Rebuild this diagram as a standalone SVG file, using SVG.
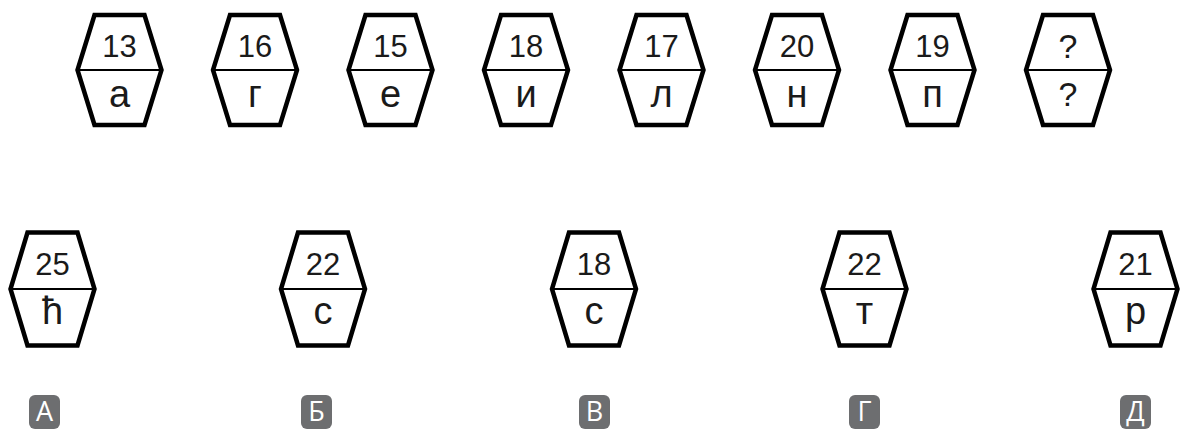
<svg xmlns="http://www.w3.org/2000/svg" width="1180" height="434" viewBox="0 0 1180 434">
<defs>
<style>
.hex{fill:#fff;stroke:#000;stroke-width:4.5;stroke-linejoin:miter}
.mid{stroke:#000;stroke-width:2}
.num{font-family:"Liberation Sans",Arial,sans-serif;font-size:31px;fill:#1a1a1a;text-anchor:middle}
.q{font-family:"Liberation Sans",Arial,sans-serif;font-size:34px;fill:#1a1a1a;text-anchor:middle}
.let{font-family:"Liberation Sans",Arial,sans-serif;font-size:38px;fill:#1a1a1a;text-anchor:middle}
.lbox{fill:#6d6e70}
.ltxt{font-family:"Open Sans","Liberation Sans",sans-serif;font-size:27px;fill:#fff;text-anchor:middle}
</style>
<g id="hexT"><path class="hex" d="M-25,-55 L25,-55 L42,0 L25,55 L-25,55 L-42,0 Z"/><line class="mid" x1="-42" y1="0" x2="42" y2="0"/></g>
<g id="hexB"><path class="hex" d="M-25,-56.5 L25,-56.5 L42,0 L25,56.5 L-25,56.5 L-42,0 Z"/><line class="mid" x1="-42" y1="0" x2="42" y2="0"/></g>
</defs>
<g id="t1"><use href="#hexT" x="119.5" y="70"/><text class="num" x="119.5" y="57">13</text><text class="let" x="119.5" y="107">а</text></g>
<g id="t2"><use href="#hexT" x="255" y="70"/><text class="num" x="255" y="57">16</text><text class="let" x="255" y="107">г</text></g>
<g id="t3"><use href="#hexT" x="390.5" y="70"/><text class="num" x="390.5" y="57">15</text><text class="let" x="390.5" y="107">е</text></g>
<g id="t4"><use href="#hexT" x="526" y="70"/><text class="num" x="526" y="57">18</text><text class="let" x="526" y="107">и</text></g>
<g id="t5"><use href="#hexT" x="661.5" y="70"/><text class="num" x="661.5" y="57">17</text><text class="let" x="661.5" y="107">л</text></g>
<g id="t6"><use href="#hexT" x="797" y="70"/><text class="num" x="797" y="57">20</text><text class="let" x="797" y="107">н</text></g>
<g id="t7"><use href="#hexT" x="932.5" y="70"/><text class="num" x="932.5" y="57">19</text><text class="let" x="932.5" y="107">п</text></g>
<g id="t8"><use href="#hexT" x="1068" y="70"/><text class="q" x="1068" y="58">?</text><text class="q" x="1068" y="106">?</text></g>
<g id="b1"><use href="#hexB" x="52.5" y="289"/><text class="num" x="52.5" y="275">25</text><text class="let" x="52.5" y="324">ћ</text></g>
<g id="b2"><use href="#hexB" x="323" y="289"/><text class="num" x="323" y="275">22</text><text class="let" x="323" y="324">с</text></g>
<g id="b3"><use href="#hexB" x="594" y="289"/><text class="num" x="594" y="275">18</text><text class="let" x="594" y="324">с</text></g>
<g id="b4"><use href="#hexB" x="864.5" y="289"/><text class="num" x="864.5" y="275">22</text><text class="let" x="864.5" y="324">т</text></g>
<g id="b5"><use href="#hexB" x="1135.5" y="289"/><text class="num" x="1135.5" y="275">21</text><text class="let" x="1135.5" y="324">р</text></g>
<g id="labels">
<g id="lA"><rect class="lbox" x="29" y="395" width="31" height="34" rx="6"/><text class="ltxt" x="44.5" y="421">А</text></g>
<g id="lB"><rect class="lbox" x="301" y="395" width="31" height="34" rx="6"/><text class="ltxt" x="316.5" y="421">Б</text></g>
<g id="lV"><rect class="lbox" x="579" y="395" width="31" height="34" rx="6"/><text class="ltxt" x="594.5" y="421">В</text></g>
<g id="lG"><rect class="lbox" x="849" y="395" width="31" height="34" rx="6"/><text class="ltxt" x="864.5" y="421">Г</text></g>
<g id="lD"><rect class="lbox" x="1120" y="395" width="31" height="34" rx="6"/><text class="ltxt" x="1135.5" y="421">Д</text></g>
</g>
</svg>
